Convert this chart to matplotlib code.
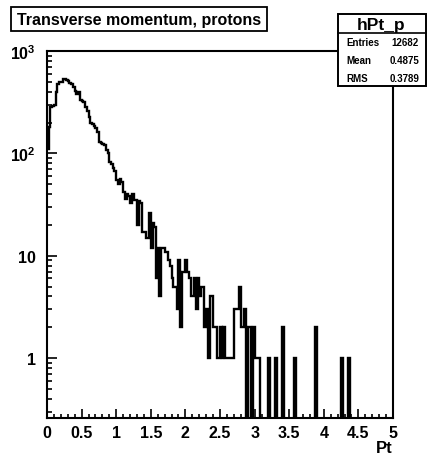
import matplotlib

matplotlib.use("Agg")
import matplotlib.pyplot as plt
import numpy as np
from matplotlib.lines import Line2D
from matplotlib.patches import Rectangle
from matplotlib.ticker import FixedFormatter, FixedLocator, LogLocator, MultipleLocator, NullFormatter

# histogram hPt_p: 200 bins of 0.025 between 0 and 5
PT_MIN, PT_MAX, N_BINS = 0.0, 5.0, 200
COUNTS_PEAK = [
    110, 180, 285, 290, 300, 397, 476, 495, 500, 535, 535, 525, 515, 490, 476, 443, 410, 380, 397, 330,
    327, 315, 285, 262, 226, 200, 195, 185, 175, 160, 128, 125, 123, 120, 108, 100, 82, 78, 72, 68,
]
COUNTS_SLOPE = [
    55, 50, 56, 52, 42, 36, 40, 38, 33, 40, 35, 35, 20, 34, 33, 17, 17, 15, 15, 26,
    12, 21, 19, 6, 12, 4, 12, 12, 11, 11, 9, 8, 6, 5, 5, 3, 9, 2, 7, 7,
    9, 7, 6, 4, 4, 6, 3, 6, 4, 5, 5, 2, 3, 1, 4, 4, 2, 2, 1, 1,
]
COUNTS_TAIL = [
    2, 1, 2, 1, 1, 1, 1, 1, 3, 3, 3, 5, 2, 2, 3, 0, 2, 2, 0, 2,
    1, 1, 1, 0, 0, 0, 0, 0, 1, 0, 0, 0, 1, 0, 0, 0, 2, 0, 0, 0,
    0, 0, 0, 1, 0, 0, 0, 0, 0, 0, 0, 0, 0, 0, 0, 2, 0, 0, 0, 0,
    0, 0, 0, 0, 0, 0, 0, 0, 0, 0, 1, 0, 0, 0, 1, 0, 0, 0, 0, 0,
    0, 0, 0, 0, 0, 0, 0, 0, 0, 0, 0, 0, 0, 0, 0, 0, 0, 0, 0, 0,
]
TITLE = "Transverse momentum, protons"
HIST_NAME = "hPt_p"
STATS = [("Entries", "12682"), ("Mean", "0.4875"), ("RMS", "0.3789")]
Y_TICKS = [1, 10, 100, 1000]
Y_LABELS = ["1", "10", r"$10^{2}$", r"$10^{3}$"]
X_TITLE = "Pt"

W, H = 428, 456

plt.rcParams["font.family"] = ["Liberation Sans", "DejaVu Sans"]
plt.rcParams["font.weight"] = "bold"
plt.rcParams["mathtext.fontset"] = "custom"
plt.rcParams["mathtext.rm"] = "Liberation Sans:bold"
plt.rcParams["mathtext.it"] = "Liberation Sans:bold"
plt.rcParams["mathtext.bf"] = "Liberation Sans:bold"


def px(x, y):
    """pixel position (from top-left) -> figure fraction"""
    return x / W, 1 - y / H


def main():
    fig = plt.figure(figsize=(W / 100, H / 100), dpi=100)
    left, bottom = px(47, 419)
    ax = fig.add_axes([left, bottom, (393 - 47) / W, (419 - 52) / H])

    edges = np.linspace(PT_MIN, PT_MAX, N_BINS + 1)
    counts = np.array(COUNTS_PEAK + COUNTS_SLOPE + COUNTS_TAIL, dtype=float)
    # empty bins fall to the bottom of the log frame
    drawn = np.where(counts > 0, counts, 1e-3)
    ax.stairs(drawn, edges, baseline=None, color="black", lw=1.7)

    ax.set_yscale("log")
    ax.set_xlim(PT_MIN, PT_MAX)
    ax.set_ylim(0.26, 1000)

    ax.xaxis.set_major_locator(MultipleLocator(0.5))
    ax.xaxis.set_minor_locator(MultipleLocator(0.1))
    ax.xaxis.set_major_formatter(lambda v, _: f"{v:g}")
    ax.yaxis.set_major_locator(FixedLocator(Y_TICKS))
    ax.yaxis.set_major_formatter(FixedFormatter(Y_LABELS))
    ax.yaxis.set_minor_locator(LogLocator(base=10, subs=np.arange(2, 10)))
    ax.yaxis.set_minor_formatter(NullFormatter())

    ax.tick_params(which="both", direction="in", top=False, right=False, width=1.2, labelsize=11.5)
    ax.tick_params(axis="x", which="major", length=6.5, pad=5)
    ax.tick_params(axis="x", which="minor", length=3.2)
    ax.tick_params(axis="y", which="major", length=7.5, pad=8)
    ax.tick_params(axis="y", which="minor", length=3.8)
    for spine in ax.spines.values():
        spine.set_linewidth(1.5)

    x, y = px(393, 449)
    fig.text(x, y, X_TITLE, ha="right", va="center", size=12, weight="bold")

    # title box
    x0, y0 = px(11, 32)
    fig.patches.append(Rectangle((x0, y0), 256 / W, 24 / H, transform=fig.transFigure,
                                 facecolor="white", edgecolor="black", lw=1.3, zorder=5))
    x, y = px(139, 20)
    fig.text(x, y, TITLE, ha="center", va="center", size=11.5, weight="bold", zorder=6)

    # stats box
    x0, y0 = px(338, 87)
    fig.patches.append(Rectangle((x0, y0), 88 / W, 72 / H, transform=fig.transFigure,
                                 facecolor="white", edgecolor="black", lw=1.4, zorder=5))
    sx0, sy = px(338, 34)
    sx1, _ = px(426, 34)
    fig.lines.append(Line2D([sx0, sx1], [sy, sy], transform=fig.transFigure,
                            color="black", lw=1.2, zorder=6))
    x, y = px(381, 25.5)
    fig.text(x, y, HIST_NAME, ha="center", va="center", size=12.5, weight="bold", zorder=6)
    for row, (name, value) in enumerate(STATS):
        _, y = px(0, 42.5 + row * 18.5)
        fig.text(346 / W, y, name, ha="left", va="center", size=7, weight="bold", zorder=6)
        fig.text(419 / W, y, value, ha="right", va="center", size=7, weight="bold", zorder=6)

    fig.savefig("out.png", dpi=100, facecolor="white")


if __name__ == "__main__":
    main()
